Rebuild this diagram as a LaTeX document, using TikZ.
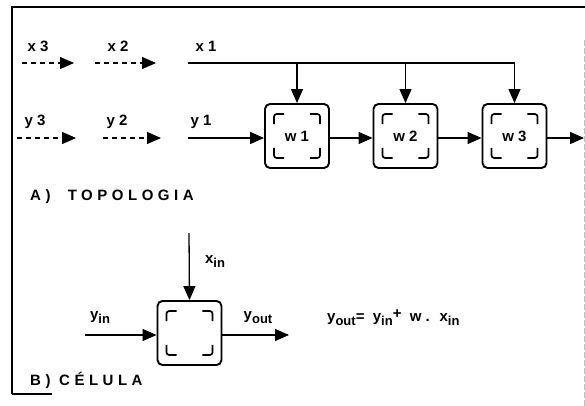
\documentclass[tikz,border=0pt]{standalone}
\usepackage{fontspec}
\setmainfont{Liberation Sans}
\newfontfamily\spaced[LetterSpace=30]{Liberation Sans}
\usetikzlibrary{arrows.meta,calc}
\newcommand{\sub}[1]{\raisebox{-4pt}{\fontsize{13}{14}\selectfont #1}}
\newcommand{\innerbr}[1]{%
  \draw[bracket] ($(#1.north west)+(10,21)$) -- ($(#1.north west)+(10,11)$) -- ($(#1.north west)+(20,11)$);
  \draw[bracket] ($(#1.north east)+(-20,11)$) -- ($(#1.north east)+(-10,11)$) -- ($(#1.north east)+(-10,21)$);
  \draw[bracket] ($(#1.south west)+(10,-21)$) -- ($(#1.south west)+(10,-11)$) -- ($(#1.south west)+(20,-11)$);
  \draw[bracket] ($(#1.south east)+(-20,-11)$) -- ($(#1.south east)+(-10,-11)$) -- ($(#1.south east)+(-10,-21)$);}
\begin{document}
\begin{tikzpicture}[x=1pt,y=-1pt,
  font=\fontsize{15}{17}\selectfont\bfseries,
  cell/.style={draw,line width=1.9pt,rounded corners=5pt,minimum width=64pt,minimum height=64pt,inner sep=0pt},
  bracket/.style={line width=1.7pt,rounded corners=2.5pt},
  flow/.style={line width=1.3pt,-{Triangle[length=14pt,width=12pt]}},
  dflow/.style={flow,dash pattern=on 5pt off 4pt},
  lbl/.style={inner sep=1pt}]
\useasboundingbox (0,0) rectangle (585,406);
% frame
\draw[line width=1.8pt] (12,394) -- (12,7) -- (585,7);
\draw[line width=1.2pt] (12,394) -- (52,394);
\draw[gray!50,line width=0.8pt,dash pattern=on 6pt off 2pt] (584,40) -- (584,406);
% cells of the topology
\node[cell] (w1) at (297,136) {w 1};
\node[cell] (w2) at (405.5,136) {w 2};
\node[cell] (w3) at (514.5,136) {w 3};
\innerbr{w1}\innerbr{w2}\innerbr{w3}
% x inputs
\coordinate (x3a) at (22,63); \coordinate (x3b) at (74,63);
\coordinate (x2a) at (95,63); \coordinate (x2b) at (156,63);
\coordinate (x1a) at (188,63);
\draw[dflow] (x3a) -- (x3b);
\draw[dflow] (x2a) -- (x2b);
\node[lbl] (lx3) at (38,46) {x 3};
\node[lbl] (lx2) at (118,46) {x 2};
\node[lbl] (lx1) at (206,46) {x 1};
\draw[flow] (x1a) -| (w3.north);
\draw[flow] (w1.north |- x1a) -- (w1.north);
\draw[flow] (w2.north |- x1a) -- (w2.north);
% y inputs
\coordinate (y3a) at (17,138); \coordinate (y3b) at (76,138);
\coordinate (y2a) at (103,138); \coordinate (y2b) at (161,138);
\coordinate (y1a) at (188,138);
\coordinate (yout) at (584,138);
\draw[dflow] (y3a) -- (y3b);
\draw[dflow] (y2a) -- (y2b);
\node[lbl] (ly3) at (35,122) {y 3};
\node[lbl] (ly2) at (117,122) {y 2};
\node[lbl] (ly1) at (201,122) {y 1};
\draw[flow] (y1a) -- (y1a -| w1.west);
\draw[flow] (w1.east |- y1a) -- (w2.west |- y1a);
\draw[flow] (w2.east |- y1a) -- (w3.west |- y1a);
\draw[flow] (w3.east |- y1a) -- (yout);
\node[lbl,anchor=west] (ta) at (29,197) {\spaced A)\ \ TOPOLOGIA};
% cell detail
\node[cell] (c) at (189.5,333) {};
\innerbr{c}
\coordinate (xin) at (189,233);
\coordinate (yin) at (85,335);
\coordinate (yo) at (289,335);
\draw[flow] (xin) -- (c.north);
\draw[flow] (yin) -- (yin -| c.west);
\draw[flow] (c.east |- yo) -- (yo);
\node[lbl] (lxin) at (215,262) {x\sub{in}};
\node[lbl] (lyin) at (100,318) {y\sub{in}};
\node[lbl] (lyout) at (258,318) {y\sub{out}};
\node[lbl,anchor=west] (eq) at (326,318) {y\sub{out}= \ y\sub{in}\raisebox{3pt}{+} \ w . \ x\sub{in}};
\node[lbl,anchor=west] (tb) at (29,380) {\spaced B)\ CÉLULA};
\end{tikzpicture}
\end{document}
